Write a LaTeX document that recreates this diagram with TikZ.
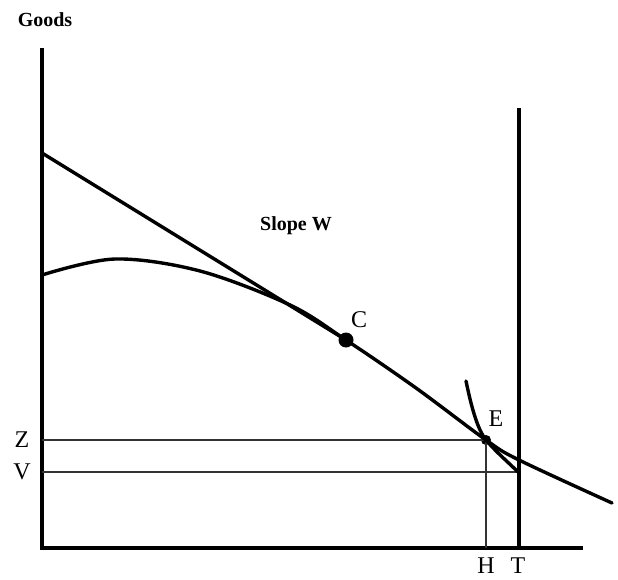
\documentclass[tikz,border=0pt]{standalone}
\usepackage{fontspec}
\setmainfont{Liberation Serif}
\usetikzlibrary{positioning}
\begin{document}
\begin{tikzpicture}[
  x=1pt,y=-1pt,
  axis/.style={line width=3.8pt,line cap=rect},
  guide/.style={line width=1.1pt,black!80},
  curve/.style={line width=3.4pt,line cap=round},
  dot/.style={circle,fill=black,inner sep=0pt},
  lab/.style={font=\fontsize{24}{27}\selectfont,inner sep=1pt},
  blab/.style={font=\fontsize{20}{24}\selectfont\bfseries,inner sep=1pt}
]
\useasboundingbox (0,0) rectangle (618,580);

% AXES and the time endowment
\coordinate (O) at (42,548);
\coordinate (ytop) at (42,50);
\coordinate (xend) at (581,548);
\coordinate (Ttop) at (519,110);
\coordinate (Tbot) at (519,548);
\draw[axis] (ytop) -- (O) -- (xend);
\draw[axis] (Ttop) -- (Tbot);

% POINTS on the curve
\node[dot,minimum size=15pt] (C) at (346,340) {};
\node[dot,minimum size=10pt] (E) at (486,440) {};
\coordinate (TV) at (518,472);

% GUIDE lines for Z, V and H
\draw[guide] (O |- E) -- (E.center);
\draw[guide] (O |- TV) -- (TV);
\draw[guide] (E.center) -- (E |- O);

% PRODUCTION curve
\draw[curve] plot[smooth,tension=0.55] coordinates {(42,275) (115,259) (200,271) (290,305) (C.center) (416,388) (E.center) (519,460) (612,503)};

% BUDGET line, tangent at C
\coordinate (B0) at (42,153);
\draw[curve,line cap=butt] (B0) -- (C.center);

% INDIFFERENCE curve through E
\draw[curve] (466,381) .. controls (472,410) and (478,430) .. (E.center) .. controls (496,452) and (508,462) .. (TV);

% LABELS
\node[blab] (goods) at (45,20) {Goods};
\node[blab] (slope) at (296,226) {Slope W};
\node[lab] (labC) at (359,320) {C};
\node[lab] (labE) at (496,419) {E};
\node[lab] (labZ) at (22,440) {Z};
\node[lab] (labV) at (22,472) {V};
\node[lab] (labH) at (486,566) {H};
\node[lab] (labT) at (518,566) {T};
\end{tikzpicture}
\end{document}
